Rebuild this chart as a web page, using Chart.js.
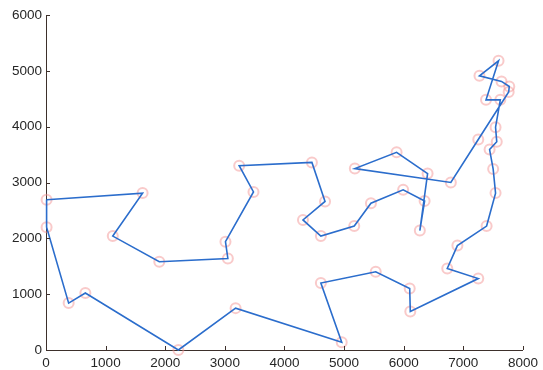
<!DOCTYPE html>
<html>
<head>
<meta charset="utf-8">
<script src="https://cdn.jsdelivr.net/npm/chart.js@4/dist/chart.umd.min.js"></script>
<style>
  html, body { margin: 0; padding: 0; background: #fff; }
  #wrap { width: 543px; height: 370px; }
</style>
</head>
<body>
<div id="wrap"><canvas id="grafico"></canvas></div>
<script>
// tour order (closed loop, first point repeated at the end)
const routeX = [10, 1620, 1120, 1900, 3050, 3010, 3480, 3240, 4460, 4680, 4310, 4610,
    5170, 5450, 5990, 6350, 6270, 6400, 5880, 5180, 6790, 7250, 7760, 7770, 7640, 7270,
    7590, 7380, 7620, 7540, 7560, 7440, 7500, 7540, 7390, 6900, 6730, 7250, 6110, 6100,
    5530, 4610, 4960, 3180, 2220, 660, 380, 10, 10];
const routeY = [2690, 2810, 2040, 1580, 1640, 1940, 2830, 3300, 3360, 2660, 2330, 2040,
    2220, 2630, 2870, 2670, 2140, 3160, 3540, 3250, 3000, 3770, 4620, 4720, 4810, 4910,
    5180, 4480, 4480, 3990, 3730, 3590, 3240, 2810, 2220, 1870, 1460, 1280, 690, 1100,
    1400, 1200, 140, 750, 0, 1020, 840, 2200, 2690];
const xTicks = [0, 1000, 2000, 3000, 4000, 5000, 6000, 7000, 8000];
const yTicks = [0, 1000, 2000, 3000, 4000, 5000, 6000];

const pontos = routeX.map((x, i) => ({ x: x, y: routeY[i] }));
const corEixo = '#3d302b';

// ticks pointing inward, like the original figure
const ticksParaDentro = {
    id: 'ticksParaDentro',
    afterDraw(chart) {
        const ctx = chart.ctx;
        const sx = chart.scales.x;
        const sy = chart.scales.y;
        const area = chart.chartArea;
        ctx.save();
        ctx.strokeStyle = corEixo;
        ctx.lineWidth = 1;
        ctx.beginPath();
        xTicks.forEach(v => {
            const px = Math.round(sx.getPixelForValue(v)) + 0.5;
            ctx.moveTo(px, area.bottom);
            ctx.lineTo(px, area.bottom - 4);
        });
        yTicks.forEach(v => {
            const py = Math.round(sy.getPixelForValue(v)) + 0.5;
            ctx.moveTo(area.left, py);
            ctx.lineTo(area.left + 4, py);
        });
        ctx.stroke();
        ctx.restore();
    }
};

Chart.defaults.font.family = '"Liberation Sans", Arial, sans-serif';
Chart.defaults.font.size = 13.5;
Chart.defaults.color = '#262626';

new Chart(document.getElementById('grafico'), {
    type: 'scatter',
    data: {
        datasets: [
            {
                // route line on top
                data: pontos,
                showLine: true,
                borderColor: '#2b6dcc',
                borderWidth: 1.6,
                pointRadius: 0,
                fill: false,
                tension: 0,
                clip: false,
                order: 1
            },
            {
                // cities as faint pink circles
                data: pontos.slice(0, -1),
                showLine: false,
                pointRadius: 5,
                pointBorderWidth: 2,
                pointBorderColor: 'rgba(244,150,150,0.5)',
                pointBackgroundColor: 'rgba(255,255,255,0)',
                clip: false,
                order: 2
            }
        ]
    },
    options: {
        responsive: true,
        maintainAspectRatio: false,
        animation: false,
        layout: { padding: { top: 15, right: 17, left: 0, bottom: 0 } },
        plugins: {
            legend: { display: false },
            tooltip: { enabled: false }
        },
        scales: {
            x: {
                type: 'linear',
                min: 0,
                max: 8000,
                afterBuildTicks: scale => { scale.ticks = xTicks.map(v => ({ value: v })); },
                afterFit: scale => { scale.height = 20; },
                grid: { display: false, drawTicks: false },
                border: { display: true, color: corEixo, width: 1 },
                ticks: { padding: 5, maxRotation: 0, autoSkip: false, callback: v => String(v) }
            },
            y: {
                type: 'linear',
                min: 0,
                max: 6000,
                afterBuildTicks: scale => { scale.ticks = yTicks.map(v => ({ value: v })); },
                afterFit: scale => { scale.width = 46; },
                grid: { display: false, drawTicks: false },
                border: { display: true, color: corEixo, width: 1 },
                ticks: { padding: 4, autoSkip: false, callback: v => String(v) }
            }
        }
    },
    plugins: [ticksParaDentro]
});
</script>
</body>
</html>
